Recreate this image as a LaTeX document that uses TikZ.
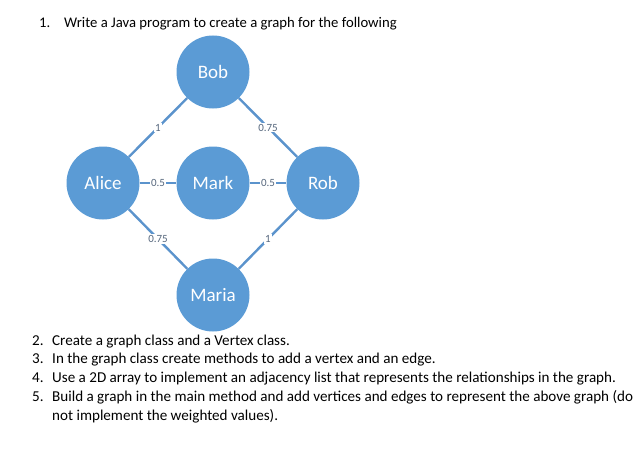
\documentclass[tikz,border=0pt]{standalone}
\usepackage{fontspec}
\setmainfont{Carlito}
\definecolor{nodeblue}{HTML}{5B9BD5}
\definecolor{edgeblue}{HTML}{5B93CC}
\definecolor{labgray}{HTML}{56677D}
\tikzset{
  vertex/.style={circle,fill=nodeblue,minimum size=73pt,inner sep=0pt,text=white,font=\fontsize{19}{22}\selectfont},
  link/.style={draw=edgeblue,line width=2.4pt},
  wlabel/.style={fill=white,text=labgray,inner sep=1.2pt,font=\fontsize{11}{12}\selectfont},
  txt/.style={anchor=base west,inner sep=0pt,font=\fontsize{14.7}{18}\selectfont,text=black},
  ltxt/.style={anchor=base west,inner sep=0pt,font=\fontsize{15.1}{18}\selectfont,text=black}
}
\begin{document}
\begin{tikzpicture}[x=1pt,y=-1pt]
\useasboundingbox (0,0) rectangle (644,460);
\node[txt] (n1) at (39,28) {1.};
\node[txt] (t1) at (64,28) {Write a Java program to create a graph for the following};

\node[vertex] (bob) at (213,72) {Bob};
\node[vertex] (alice) at (103,183) {Alice};
\node[vertex] (mark) at (213,183) {Mark};
\node[vertex] (rob) at (323,183) {Rob};
\node[vertex] (maria) at (213,295) {Maria};

\path[link] (alice) -- node[wlabel]{1} (bob);
\path[link] (bob) -- node[wlabel]{0.75} (rob);
\path[link] (alice) -- node[wlabel]{0.5} (mark);
\path[link] (mark) -- node[wlabel]{0.5} (rob);
\path[link] (alice) -- node[wlabel]{0.75} (maria);
\path[link] (maria) -- node[wlabel]{1} (rob);

\node[ltxt] (n2) at (32,345) {2.};
\node[ltxt] (t2) at (52,345) {Create a graph class and a Vertex class.};
\node[ltxt] (n3) at (32,363) {3.};
\node[ltxt] (t3) at (52,363) {In the graph class create methods to add a vertex and an edge.};
\node[ltxt] (n4) at (32,382) {4.};
\node[ltxt] (t4) at (52,382) {Use a 2D array to implement an adjacency list that represents the relationships in the graph.};
\node[ltxt] (n5) at (32,401) {5.};
\node[ltxt] (t5) at (52,401) {Build a graph in the main method and add vertices and edges to represent the above graph (do};
\node[ltxt] (t6) at (52,420) {not implement the weighted values).};
\end{tikzpicture}
\end{document}
